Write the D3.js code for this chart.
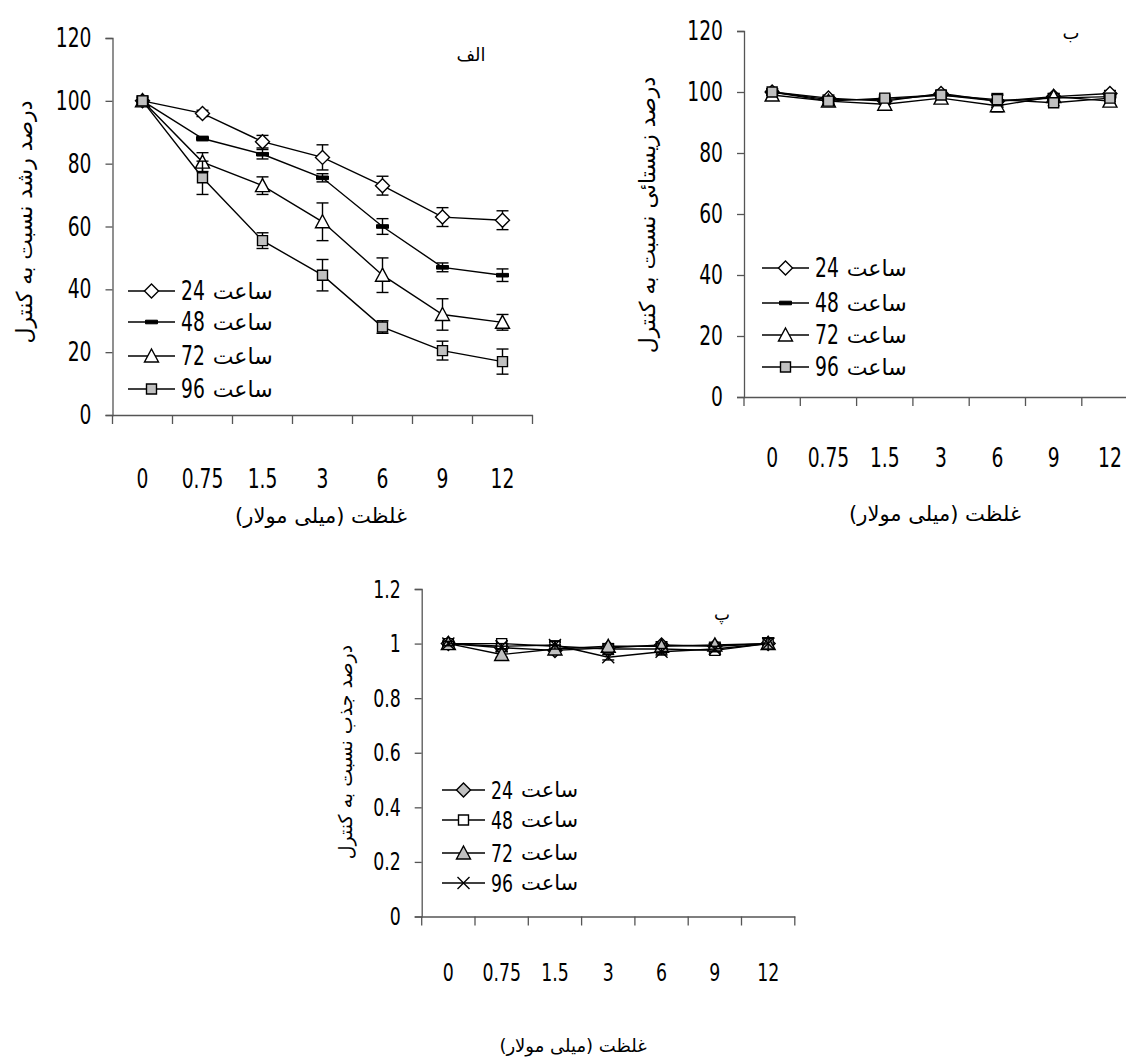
<!DOCTYPE html>
<html>
<head>
<meta charset="utf-8">
<script src="https://cdn.jsdelivr.net/npm/d3@7"></script>
<style>
  body { margin: 0; background: #fff; }
  svg { display: block; }
  .num { font-family: 'Liberation Sans Narrow', 'DejaVu Sans Condensed', 'Arial Narrow', sans-serif; }
  .fa { font-family: 'DejaVu Sans', 'Noto Sans', sans-serif; }
</style>
</head>
<body>
<svg id="chart" width="1126" height="1057"></svg>
<script>
// concentrations (mM) and exposure times (h)
var categories = ['0', '0.75', '1.5', '3', '6', '9', '12'];
var hours = ['24', '48', '72', '96'];

// panel الف: growth relative to control (%)
var growth24 = [100, 96, 87, 82, 73, 63, 62];
var growth48 = [100, 88, 83, 75.5, 60, 47, 44.5];
var growth72 = [100, 80.5, 73, 61.5, 44.5, 32, 29.5];
var growth96 = [100, 75.5, 55.5, 44.5, 28, 20.5, 17];
var growthErr24 = [1, 1, 2, 4, 3, 3, 3];
var growthErr48 = [1, 0.7, 1.5, 1.3, 2.5, 1.4, 2];
var growthErr72 = [1.5, 3, 2.8, 6, 5.5, 5, 2.5];
var growthErr96 = [1.5, 5.3, 2.5, 5, 2, 3, 4];

// panel ب: viability relative to control (%)
var viab24 = [100, 98, 97, 99.5, 97, 98.5, 99.5];
var viab48 = [100, 97.5, 97.5, 99, 97, 98, 98.5];
var viab72 = [99, 97, 96, 98, 95.5, 98.5, 97];
var viab96 = [100, 97, 98, 99, 97.5, 96.5, 98];
var viabErr = [1, 1, 1, 1, 2, 1, 1];

// panel پ: uptake relative to control
var uptake24 = [1, 0.985, 0.975, 0.985, 0.995, 0.99, 1];
var uptake48 = [1, 1, 0.99, 0.98, 0.98, 0.975, 1];
var uptake72 = [1, 0.96, 0.98, 0.99, 0.99, 0.995, 1];
var uptake96 = [1, 0.99, 0.995, 0.95, 0.97, 0.98, 1];
var uptakeErr = [0.008, 0.01, 0.015, 0.01, 0.012, 0.01, 0.02];

var ticksPct = [0, 20, 40, 60, 80, 100, 120];
var ticksRatio = [0, 0.2, 0.4, 0.6, 0.8, 1, 1.2];

var svg = d3.select('#chart');
var GRAY = '#c0c0c0';
var NARROW = 0.77;   // squeeze digits to look like the condensed face of the original

// marker shapes, drawn around (0,0)
var MARKERS = {
    diamond: 'M0,-7L7,0L0,7L-7,0Z',
    square: 'M-5,-5H5V5H-5Z',
    triangle: 'M0,-7L7,6H-7Z',
    dash: 'M-6,-1.8H6V1.8H-6Z',
    cross: 'M-6,-6L6,6M-6,6L6,-6'
};

function drawMarker(g, kind, fill, x, y) {
    g.append('path')
        .attr('d', MARKERS[kind])
        .attr('transform', 'translate(' + x + ',' + y + ')')
        .attr('fill', kind === 'cross' ? 'none' : fill)
        .attr('stroke', '#000')
        .attr('stroke-width', kind === 'dash' ? 1 : 1.4);
}

function numText(g, x, y, anchor, size, str) {
    return g.append('text').attr('class', 'num')
        .attr('transform', 'translate(' + x + ',' + y + ') scale(' + NARROW + ',1)')
        .attr('text-anchor', anchor).attr('dy', '0.35em')
        .attr('font-size', size).text(str);
}

function drawPanel(p) {
    var g = svg.append('g');
    var x = d3.scaleBand().domain(categories).range([p.left, p.left + p.step * categories.length]);
    var y = d3.scaleLinear().domain([0, p.yMax]).range([p.bottom, p.top]);

    // axes (Excel style, ticks outside)
    var ya = g.append('g').attr('transform', 'translate(' + p.left + ',0)')
        .call(d3.axisLeft(y).tickValues(p.ticks).tickSize(7).tickPadding(14).tickFormat(p.fmt));
    ya.select('.domain').attr('stroke', '#555').attr('stroke-width', 1.3);
    ya.selectAll('.tick line').attr('stroke', '#555').attr('stroke-width', 1.3);
    ya.selectAll('text').attr('class', 'num').attr('font-size', p.tickSize).attr('fill', '#000')
        .attr('x', -21 / NARROW).attr('transform', 'scale(' + NARROW + ',1)');

    var xa = g.append('g').attr('transform', 'translate(0,' + p.bottom + ')')
        .call(d3.axisBottom(x).tickSize(0).tickFormat(''));
    xa.select('.domain').attr('stroke', '#555').attr('stroke-width', 1.3);
    var edges = d3.range(categories.length + 1).map(function(i) { return p.left + i * x.step(); });
    g.selectAll('.edge').data(edges).enter().append('line')
        .attr('x1', function(d) { return d; }).attr('x2', function(d) { return d; })
        .attr('y1', p.bottom).attr('y2', p.bottom + 9)
        .attr('stroke', '#555').attr('stroke-width', 1.3);

    categories.forEach(function(c) {
        numText(g, x(c) + x.bandwidth() / 2, p.bottom + p.labelDy, 'middle', p.tickSize, c);
    });

    // series: error bars, then line, then markers
    p.series.forEach(function(s) {
        var pts = categories.map(function(c, i) {
            return { cx: x(c) + x.bandwidth() / 2, v: s.values[i], e: s.errs[i] };
        });
        pts.forEach(function(d) {
            var y1 = y(d.v - d.e), y2 = y(d.v + d.e);
            g.append('line').attr('x1', d.cx).attr('x2', d.cx).attr('y1', y1).attr('y2', y2)
                .attr('stroke', '#000').attr('stroke-width', 1.4);
            [y1, y2].forEach(function(yy) {
                g.append('line').attr('x1', d.cx - 6).attr('x2', d.cx + 6).attr('y1', yy).attr('y2', yy)
                    .attr('stroke', '#000').attr('stroke-width', 1.4);
            });
        });
        g.append('path')
            .datum(pts)
            .attr('fill', 'none').attr('stroke', '#000').attr('stroke-width', 1.4)
            .attr('d', d3.line().x(function(d) { return d.cx; }).y(function(d) { return y(d.v); }));
        pts.forEach(function(d) { drawMarker(g, s.marker, s.fill, d.cx, y(d.v)); });
    });

    // legend: line + marker, hour number, then the word "ساعت"
    p.series.forEach(function(s, i) {
        var ly = p.legend.rows[i];
        g.append('line').attr('x1', p.legend.x0).attr('x2', p.legend.x1).attr('y1', ly).attr('y2', ly)
            .attr('stroke', '#000').attr('stroke-width', 1.4);
        drawMarker(g, s.marker, s.fill, (p.legend.x0 + p.legend.x1) / 2, ly);
        var tx = p.legend.x1 + 6;
        var n = numText(g, tx, ly, 'start', p.tickSize, hours[i]);
        var w = n.node().getComputedTextLength() * NARROW;
        g.append('text').attr('class', 'fa')
            .attr('x', tx + w + 8).attr('y', ly).attr('dy', '0.35em')
            .attr('font-size', p.legendFa).text('ساعت');
    });

    // titles
    g.append('text').attr('class', 'fa').attr('direction', 'rtl')
        .attr('transform', 'translate(' + p.yTitle.x + ',' + p.yTitle.y + ') rotate(-90)')
        .attr('text-anchor', 'middle').attr('dy', '0.35em')
        .attr('font-size', p.yTitle.size).text(p.yTitle.text);
    g.append('text').attr('class', 'fa').attr('direction', 'rtl')
        .attr('x', p.xTitle.x).attr('y', p.xTitle.y).attr('dy', '0.35em')
        .attr('text-anchor', 'middle').attr('font-size', p.xTitle.size).text(p.xTitle.text);
    g.append('text').attr('class', 'fa').attr('direction', 'rtl')
        .attr('x', p.tag.x).attr('y', p.tag.y).attr('dy', '0.35em')
        .attr('text-anchor', 'middle').attr('font-size', p.tag.size).text(p.tag.text);
}

var xTitleText = 'غلظت (میلی مولار)';

drawPanel({
    left: 112.5, step: 60, top: 38, bottom: 415, yMax: 120,
    ticks: ticksPct, fmt: d3.format('d'), tickSize: 27, labelDy: 64, legendFa: 22,
    series: [
        { values: growth24, errs: growthErr24, marker: 'diamond', fill: '#fff' },
        { values: growth48, errs: growthErr48, marker: 'dash', fill: '#000' },
        { values: growth72, errs: growthErr72, marker: 'triangle', fill: '#fff' },
        { values: growth96, errs: growthErr96, marker: 'square', fill: GRAY }
    ],
    legend: { x0: 128, x1: 175, rows: [291, 322, 356, 389] },
    yTitle: { x: 24, y: 222, size: 22, text: 'درصد رشد نسبت به کنترل' },
    xTitle: { x: 321, y: 516, size: 21, text: xTitleText },
    tag: { x: 471, y: 55, size: 18, text: 'الف' }
});

drawPanel({
    left: 744, step: 56.3, top: 31, bottom: 397, yMax: 120,
    ticks: ticksPct, fmt: d3.format('d'), tickSize: 27, labelDy: 61, legendFa: 22,
    series: [
        { values: viab24, errs: viabErr, marker: 'diamond', fill: '#fff' },
        { values: viab48, errs: viabErr, marker: 'dash', fill: '#000' },
        { values: viab72, errs: viabErr, marker: 'triangle', fill: '#fff' },
        { values: viab96, errs: viabErr, marker: 'square', fill: GRAY }
    ],
    legend: { x0: 762, x1: 809, rows: [268, 303, 335, 367] },
    yTitle: { x: 647, y: 215, size: 22, text: 'درصد زیستائی نسبت به کنترل' },
    xTitle: { x: 935, y: 514, size: 21, text: xTitleText },
    tag: { x: 1071, y: 33, size: 18, text: 'ب' }
});

drawPanel({
    left: 421.7, step: 53.3, top: 589, bottom: 916.5, yMax: 1.2,
    ticks: ticksRatio, fmt: function(d) { return d === 0 || d === 1 ? String(d) : d3.format('.1f')(d); },
    tickSize: 25, labelDy: 56, legendFa: 21,
    series: [
        { values: uptake24, errs: uptakeErr, marker: 'diamond', fill: GRAY },
        { values: uptake48, errs: uptakeErr, marker: 'square', fill: '#fff' },
        { values: uptake72, errs: uptakeErr, marker: 'triangle', fill: GRAY },
        { values: uptake96, errs: uptakeErr, marker: 'cross', fill: 'none' }
    ],
    legend: { x0: 442, x1: 485, rows: [790, 820, 853, 883] },
    yTitle: { x: 345, y: 752, size: 19, text: 'درصد جذب نسبت به کنترل' },
    xTitle: { x: 573, y: 1046, size: 18, text: xTitleText },
    tag: { x: 722, y: 614, size: 17, text: 'پ' }
});
</script>
</body>
</html>
